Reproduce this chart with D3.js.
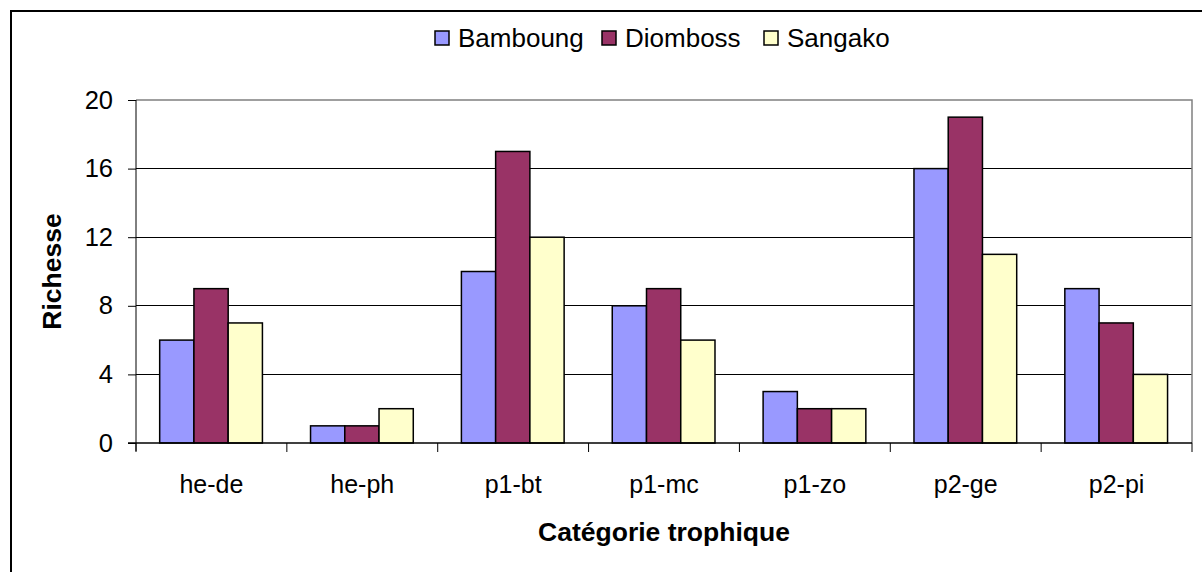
<!DOCTYPE html>
<html>
<head>
<meta charset="utf-8">
<script src="https://cdn.jsdelivr.net/npm/d3@7"></script>
<style>
  html, body { margin: 0; padding: 0; background: #fff; }
  svg { display: block; }
  text { font-family: Arial, "Liberation Sans", sans-serif; fill: #000; }
</style>
</head>
<body>
<svg id="chart" width="1202" height="572"></svg>
<script>
const categories = ["he-de", "he-ph", "p1-bt", "p1-mc", "p1-zo", "p2-ge", "p2-pi"];
const seriesNames = ["Bamboung", "Diomboss", "Sangako"];
const bamboung = [6, 1, 10, 8, 3, 16, 9];
const diomboss = [9, 1, 17, 9, 2, 19, 7];
const sangako  = [7, 2, 12, 6, 2, 11, 4];
const seriesColors = ["#9999FF", "#993366", "#FFFFCC"];
const yTicks = [0, 4, 8, 12, 16, 20];
const yTitle = "Richesse";
const xTitle = "Catégorie trophique";

const seriesValues = [bamboung, diomboss, sangako];
const data = categories.map((c, i) => ({
  cat: c,
  vals: seriesNames.map((s, j) => ({ key: s, value: seriesValues[j][i], color: seriesColors[j] }))
}));

const svg = d3.select("#chart");
const plot = { left: 136, top: 100, right: 1192, bottom: 443 };

// outer frame
svg.append("rect")
  .attr("x", 11).attr("y", 11)
  .attr("width", 1210).attr("height", 600)
  .attr("fill", "none").attr("stroke", "#000").attr("stroke-width", 2);

const x0 = d3.scaleBand().domain(categories).range([plot.left, plot.right]).padding(0);
const step = x0.bandwidth();
const x1 = d3.scaleBand().domain(seriesNames).range([step * 0.157, step * 0.838]).padding(0);
const y = d3.scaleLinear().domain([0, 20]).range([plot.bottom, plot.top]);

// gridlines
svg.append("g")
  .selectAll("line")
  .data(yTicks.filter(t => t > 0 && t < 20))
  .join("line")
  .attr("x1", plot.left).attr("x2", plot.right)
  .attr("y1", d => y(d)).attr("y2", d => y(d))
  .attr("stroke", "#000").attr("stroke-width", 1)
  .attr("shape-rendering", "crispEdges");

// plot area border (top, right) grey
svg.append("path")
  .attr("d", `M${plot.left},${y(20)}H${plot.right}V${plot.bottom}`)
  .attr("fill", "none").attr("stroke", "#808080").attr("stroke-width", 1.5);

// bars
const groups = svg.append("g")
  .selectAll("g")
  .data(data)
  .join("g")
  .attr("transform", d => `translate(${x0(d.cat)},0)`);

groups.selectAll("rect")
  .data(d => d.vals)
  .join("rect")
  .attr("x", d => x1(d.key))
  .attr("y", d => y(d.value))
  .attr("width", x1.bandwidth())
  .attr("height", d => y(0) - y(d.value))
  .attr("fill", d => d.color)
  .attr("stroke", "#000")
  .attr("stroke-width", 1.5);

// y axis
const yAxis = d3.axisLeft(y).tickValues(yTicks).tickSize(8).tickPadding(15).tickFormat(d3.format("d"));
const yg = svg.append("g").attr("transform", `translate(${plot.left},0)`).call(yAxis);
yg.select(".domain").remove();
yg.selectAll(".tick line").attr("stroke", "#000").attr("stroke-width", 1);
yg.selectAll(".tick text").attr("font-size", 25.5).attr("font-family", "Arial, 'Liberation Sans', sans-serif").attr("fill", "#000");
yg.append("line").attr("x1", 0).attr("x2", 0).attr("y1", plot.top).attr("y2", plot.bottom + 8)
  .attr("stroke", "#000").attr("stroke-width", 1);

// x axis
svg.append("line")
  .attr("x1", plot.left - 8).attr("x2", plot.right)
  .attr("y1", plot.bottom).attr("y2", plot.bottom)
  .attr("stroke", "#000").attr("stroke-width", 1.5);

const boundaries = categories.map(c => x0(c)).concat([plot.right]);
svg.append("g").selectAll("line")
  .data(boundaries)
  .join("line")
  .attr("x1", d => d).attr("x2", d => d)
  .attr("y1", plot.bottom).attr("y2", plot.bottom + 9)
  .attr("stroke", "#000").attr("stroke-width", 1);

svg.append("g").selectAll("text")
  .data(categories)
  .join("text")
  .attr("x", d => x0(d) + step / 2)
  .attr("y", 493)
  .attr("text-anchor", "middle")
  .attr("font-size", 25)
  .text(d => d);

// axis titles
svg.append("text")
  .attr("x", (plot.left + plot.right) / 2)
  .attr("y", 541)
  .attr("text-anchor", "middle")
  .attr("font-size", 26.5)
  .attr("font-weight", "bold")
  .text(xTitle);

svg.append("text")
  .attr("transform", `translate(61,${(plot.top + plot.bottom) / 2}) rotate(-90)`)
  .attr("text-anchor", "middle")
  .attr("font-size", 26.5)
  .attr("font-weight", "bold")
  .text(yTitle);

// legend
const legendX = [435, 602, 764];
const legend = svg.append("g").selectAll("g")
  .data(seriesNames)
  .join("g")
  .attr("transform", (d, i) => `translate(${legendX[i]},31)`);
legend.append("rect")
  .attr("width", 14).attr("height", 14)
  .attr("fill", (d, i) => seriesColors[i])
  .attr("stroke", "#000").attr("stroke-width", 1.5);
legend.append("text")
  .attr("x", 23).attr("y", 15.5)
  .attr("font-size", 26)
  .text(d => d);
</script>
</body>
</html>
